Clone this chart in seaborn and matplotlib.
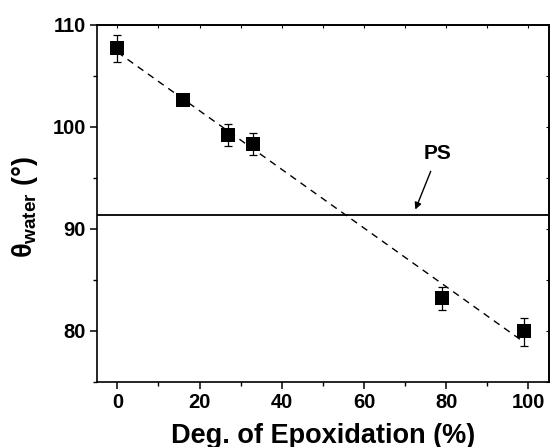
import numpy as np
import pandas as pd
import seaborn as sns
import matplotlib
matplotlib.use('Agg')
import matplotlib.pyplot as plt
from matplotlib.ticker import MultipleLocator

# 데이터
epox = [0, 16, 27, 33, 79, 99]
theta = [107.7, 102.6, 99.2, 98.3, 83.2, 80.0]
err_lo = [1.3, 0.3, 1.1, 1.1, 1.1, 1.5]
err_hi = [1.3, 0.3, 1.1, 1.1, 1.1, 1.3]
ps_theta = 91.4

df = pd.DataFrame({'epox': epox, 'theta': theta})

sns.set_theme(style='ticks')
plt.rcParams['font.family'] = ['Liberation Sans', 'DejaVu Sans']
plt.rcParams['font.weight'] = 'bold'
plt.rcParams['mathtext.fontset'] = 'custom'
plt.rcParams['mathtext.rm'] = 'Liberation Sans:bold'
plt.rcParams['mathtext.it'] = 'Liberation Sans:bold'
plt.rcParams['mathtext.bf'] = 'Liberation Sans:bold'
for k in ['text.color', 'axes.labelcolor', 'xtick.color', 'ytick.color', 'axes.edgecolor']:
    plt.rcParams[k] = 'black'

fig = plt.figure(figsize=(5.5, 4.47), dpi=100)
ax = fig.add_axes([0.176, 0.1454, 0.822, 0.799])

# PS 기준선
ax.axhline(ps_theta, color='black', lw=1.3, zorder=1)

# 선형 회귀선 (점선)
sns.regplot(data=df, x='epox', y='theta', ci=None, scatter=False, ax=ax,
            line_kws={'color': 'black', 'lw': 1.0, 'ls': (0, (5, 4))})

# 오차 막대
ax.errorbar(epox, theta, yerr=[err_lo, err_hi], fmt='none', ecolor='black',
            elinewidth=0.9, capsize=3, capthick=0.9, zorder=3)
sns.scatterplot(data=df, x='epox', y='theta', marker='s', s=95, color='black',
                edgecolor='black', linewidth=0, ax=ax, zorder=4)

ax.annotate('PS', xy=(72.5, 91.9), xytext=(78, 97.4), fontsize=15, fontweight='bold',
            ha='center', va='center',
            arrowprops=dict(arrowstyle='-|>', color='black', lw=1.0,
                            mutation_scale=10, shrinkA=4, shrinkB=0))

ax.set_xlim(-5, 105)
ax.set_ylim(75, 110)
ax.xaxis.set_major_locator(MultipleLocator(20))
ax.xaxis.set_minor_locator(MultipleLocator(10))
ax.yaxis.set_major_locator(MultipleLocator(10))
ax.yaxis.set_minor_locator(MultipleLocator(5))
ax.set_yticks([80, 90, 100, 110])
ax.tick_params(which='major', direction='out', length=5, width=1.1, labelsize=14.5, pad=3)
ax.tick_params(which='minor', direction='out', length=3, width=1.0)
for lab in ax.get_xticklabels() + ax.get_yticklabels():
    lab.set_fontweight('bold')

# 위/오른쪽 안쪽 눈금
top = ax.secondary_xaxis('top')
top.xaxis.set_major_locator(MultipleLocator(10))
top.tick_params(direction='in', length=2, labeltop=False, width=0.8)
right = ax.secondary_yaxis('right')
right.yaxis.set_major_locator(MultipleLocator(5))
right.tick_params(direction='in', length=2, labelright=False, width=0.8)

for sp in ax.spines.values():
    sp.set_linewidth(1.2)
    sp.set_color('black')
    sp.set_visible(True)

ax.set_xlabel('Deg. of Epoxidation (%)', fontsize=19.5, fontweight='bold', labelpad=7.5)
ax.set_ylabel(r'$\theta_{water}$ (°)', fontsize=19.5, fontweight='bold')
ax.yaxis.set_label_coords(-0.125, 0.49)

fig.savefig('out.png', dpi=100)
